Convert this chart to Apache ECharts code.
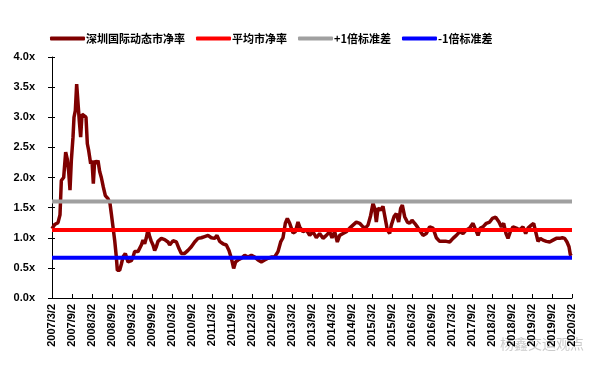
<!DOCTYPE html>
<html>
<head>
<meta charset="utf-8">
<script src="https://cdn.jsdelivr.net/npm/echarts@6/dist/echarts.min.js"></script>
<style>
html,body{margin:0;padding:0;background:#fff;}
#c{width:608px;height:371px;}
</style>
</head>
<body>
<div id="c"></div>
<script>
// x positions: months elapsed since 2007/3/2
var monthsSinceStart = [0,0.8,1.8,2.4,2.8,3.5,4.1,4.6,5.0,5.4,5.8,6.3,6.6,7.0,7.4,7.8,8.2,8.6,9.0,9.6,10.2,10.6,11.0,11.6,12.0,12.4,12.8,13.3,13.8,14.3,14.8,15.4,16.0,16.8,17.4,17.8,18.3,18.8,19.3,19.6,20.3,20.8,21.3,22.0,22.8,23.3,23.8,24.3,24.8,25.8,26.8,27.3,27.8,28.3,28.8,29.3,29.8,30.3,30.8,31.3,31.8,32.8,33.8,34.3,34.8,35.3,36.3,37.3,38.1,38.8,39.8,40.8,41.8,42.8,43.8,44.8,45.8,46.8,47.8,48.8,49.5,50.3,51.3,52.3,53.1,53.8,54.5,55.1,55.8,56.8,57.8,58.8,59.8,60.8,61.8,62.8,63.8,64.8,65.8,66.8,67.8,68.6,69.3,70.0,70.6,71.3,71.8,72.3,73.0,73.8,74.3,75.3,76.3,77.3,78.3,79.3,80.3,81.3,82.3,83.3,84.0,84.8,85.6,86.3,87.3,88.3,89.3,90.3,91.3,92.3,93.3,94.0,94.8,95.6,96.3,96.8,97.3,97.8,98.6,99.3,99.8,100.6,101.3,101.8,102.6,103.3,104.0,104.6,105.1,105.8,106.6,107.3,108.0,108.8,109.6,110.3,111.3,112.3,113.3,114.3,115.3,116.3,117.3,118.3,119.3,120.3,121.3,122.3,123.3,124.3,125.3,126.3,127.1,127.8,128.5,129.3,130.3,131.3,132.1,133.1,134.1,134.8,135.5,136.2,136.8,137.5,138.3,139.3,140.3,141.3,142.1,142.8,143.8,144.5,145.1,145.8,146.5,147.3,148.3,149.3,150.3,151.3,152.3,153.1,153.8,154.5,155.1,155.5,155.8];
var szPB = [1.15,1.22,1.25,1.38,1.95,2.0,2.42,2.3,2.1,1.79,2.28,2.67,3.0,3.11,3.55,3.55,2.93,2.67,3.05,3.08,3.0,2.56,2.45,2.23,2.28,1.90,2.28,2.23,2.28,2.1,2.0,1.84,1.70,1.65,1.57,1.40,1.18,0.96,0.68,0.46,0.46,0.56,0.68,0.74,0.60,0.60,0.62,0.68,0.77,0.77,0.88,0.96,0.90,1.0,1.14,1.02,0.94,0.88,0.79,0.85,0.94,0.99,0.97,1.0,0.93,0.88,0.95,0.93,0.82,0.74,0.74,0.79,0.85,0.93,0.99,1.0,1.02,1.04,1.0,0.99,1.04,0.94,0.90,0.88,0.79,0.66,0.49,0.60,0.63,0.66,0.71,0.68,0.71,0.68,0.63,0.60,0.63,0.66,0.68,0.68,0.77,0.93,1.0,1.24,1.32,1.24,1.16,1.08,1.10,1.26,1.18,1.10,1.13,1.04,1.10,1.0,1.07,0.99,1.04,1.10,1.0,1.10,0.93,1.04,1.07,1.10,1.16,1.21,1.26,1.24,1.18,1.16,1.21,1.37,1.57,1.49,1.26,1.49,1.46,1.52,1.37,1.13,1.07,1.21,1.35,1.40,1.26,1.49,1.54,1.35,1.26,1.24,1.29,1.24,1.18,1.12,1.04,1.07,1.18,1.16,1.0,0.94,0.94,0.94,0.93,0.99,1.04,1.10,1.07,1.13,1.16,1.24,1.13,1.04,1.16,1.18,1.24,1.26,1.32,1.34,1.26,1.18,1.24,1.07,0.99,1.10,1.18,1.16,1.13,1.18,1.07,1.16,1.21,1.24,1.10,0.94,0.99,0.96,0.94,0.93,0.96,0.99,0.99,1.0,0.99,0.93,0.85,0.72,0.70];
var tickLabels = ['2007/3/2','2007/9/2','2008/3/2','2008/9/2','2009/3/2','2009/9/2','2010/3/2','2010/9/2','2011/3/2','2011/9/2','2012/3/2','2012/9/2','2013/3/2','2013/9/2','2014/3/2','2014/9/2','2015/3/2','2015/9/2','2016/3/2','2016/9/2','2017/3/2','2017/9/2','2018/3/2','2018/9/2','2019/3/2','2019/9/2','2020/3/2'];
var seriesNames = ['深圳国际动态市净率','平均市净率','+1倍标准差','-1倍标准差'];
var meanPB = 1.13;
var plus1Std = 1.60;
var minus1Std = 0.67;
var lastMonth = 156;

var pbData = monthsSinceStart.map(function(m,i){return [m, szPB[i]];});
function flat(v){return [[0,v],[lastMonth,v]];}

var chart = echarts.init(document.getElementById('c'), null, {renderer:'canvas'});
var latin = '"Liberation Sans", Arial, sans-serif';
var cjk = '"Noto Sans CJK SC", sans-serif';
chart.setOption({
  animation:false,
  backgroundColor:'#fff',
  legend:{
    left:45, top:28, itemWidth:35, itemHeight:4, itemGap:11,
    icon:'roundRect',
    textStyle:{fontFamily:cjk, fontSize:11, fontWeight:'bold', color:'#000', padding:[0,0,0,-4]},
    data:seriesNames
  },
  grid:{left:52, right:36, top:57, bottom:73, containLabel:false},
  xAxis:{
    type:'value', min:0, max:lastMonth, interval:6,
    axisLine:{lineStyle:{color:'#000', width:1}},
    axisTick:{inside:true, length:4, lineStyle:{color:'#000'}},
    splitLine:{show:false},
    axisLabel:{rotate:90, margin:6, fontFamily:latin, fontWeight:'bold', fontSize:11, color:'#000',
      formatter:function(v){return tickLabels[Math.round(v/6)] || '';}}
  },
  yAxis:[{
    type:'value', min:0, max:4, interval:0.5,
    axisLine:{show:true, lineStyle:{color:'#000', width:1}},
    axisTick:{show:true, length:4, lineStyle:{color:'#000'}},
    splitLine:{show:false},
    axisLabel:{margin:17, fontFamily:latin, fontWeight:'bold', fontSize:11, color:'#000',
      formatter:function(v){return v.toFixed(1)+'x';}}
  },{
    type:'value', min:0, max:4, interval:0.5, position:'left',
    axisLine:{show:false},
    axisTick:{show:true, inside:true, length:3, lineStyle:{color:'#000'}},
    axisLabel:{show:false}, splitLine:{show:false}
  }],
  series:[
    {name:seriesNames[0], type:'line', data:pbData, symbol:'none', lineStyle:{color:'#7F0000', width:3.5}, itemStyle:{color:'#7F0000'}},
    {name:seriesNames[1], type:'line', data:flat(meanPB), symbol:'none', lineStyle:{color:'#FF0000', width:4}, itemStyle:{color:'#FF0000'}},
    {name:seriesNames[2], type:'line', data:flat(plus1Std), symbol:'none', lineStyle:{color:'#A0A0A0', width:4}, itemStyle:{color:'#A0A0A0'}},
    {name:seriesNames[3], type:'line', data:flat(minus1Std), symbol:'none', lineStyle:{color:'#0000FF', width:4}, itemStyle:{color:'#0000FF'}}
  ],
  graphic:[{
    type:'text', left:500, top:337, silent:true,
    style:{text:'杨鑫交运观点', fill:'rgba(140,140,140,0.45)', font:'14px "Noto Sans CJK SC"'}
  }]
});
</script>
</body>
</html>
